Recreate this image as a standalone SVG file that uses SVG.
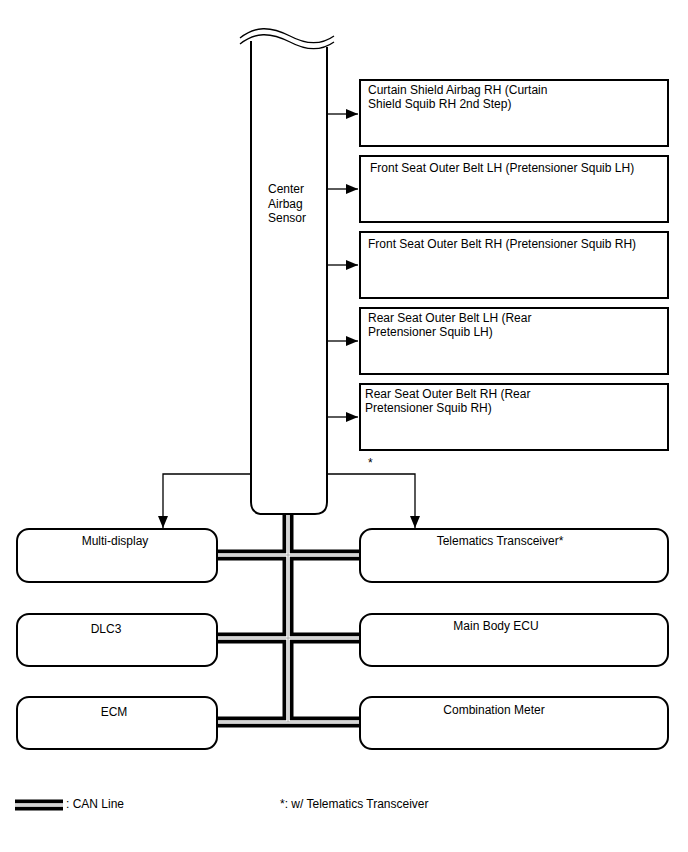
<svg xmlns="http://www.w3.org/2000/svg" width="688" height="852" viewBox="0 0 688 852">
<defs>
<marker id="ah" markerWidth="12" markerHeight="10" refX="12" refY="5" orient="auto" markerUnits="userSpaceOnUse">
<path d="M0,0 L12,5 L0,10 Z" fill="#000"/>
</marker>
<style>
text{font-family:"Liberation Sans",Arial,sans-serif;font-size:12px;fill:#000}
.box{fill:#fff;stroke:#000;stroke-width:2}
.conn{fill:none;stroke:#000;stroke-width:1.3}
.canb{fill:none;stroke:#000;stroke-width:11}
.canw{fill:none;stroke:#fff;stroke-width:3.6}
.cang{fill:none;stroke:#aaa;stroke-width:1}
.mid{text-anchor:middle}
</style>
</defs>
<rect width="688" height="852" fill="#fff"/>

<g id="can-lines">
<path class="canb" d="M288,514 V727 M216,555 H360 M216,638 H360 M216,722 H360"/>
<path class="canw" d="M288,514 V722 M216,555 H360 M216,638 H360 M216,722 H360"/>
<path class="cang" d="M288,514 V722 M216,555 H360 M216,638 H360 M216,722 H360"/>
</g>

<g id="center-airbag-sensor">
<path class="box" d="M251,41 V502 Q251,514 263,514 H315 Q327,514 327,502 V47"/>
<path fill="#fff" stroke="none" d="M240,38 C255,26 270,26 290,36 C305,44 320,46 334,36 L334,42 C320,52 305,50 290,42 C270,32 255,32 240,44 Z"/>
<path fill="none" stroke="#000" stroke-width="1.3" d="M240,38 C255,26 270,26 290,36 C305,44 320,46 334,36 M240,44 C255,32 270,32 290,42 C305,50 320,52 334,42"/>
<text x="268" y="193">Center</text>
<text x="268" y="208">Airbag</text>
<text x="268" y="222">Sensor</text>
</g>

<g id="curtain-shield">
<rect class="box" x="360" y="80" width="308" height="66"/>
<text x="368" y="94">Curtain Shield Airbag RH (Curtain</text>
<text x="368" y="108">Shield Squib RH 2nd Step)</text>
</g>
<g id="front-lh">
<rect class="box" x="360" y="156" width="308" height="66"/>
<text x="370" y="172">Front Seat Outer Belt LH (Pretensioner Squib LH)</text>
</g>
<g id="front-rh">
<rect class="box" x="360" y="232" width="308" height="66"/>
<text x="368" y="248">Front Seat Outer Belt RH (Pretensioner Squib RH)</text>
</g>
<g id="rear-lh">
<rect class="box" x="360" y="308" width="308" height="66"/>
<text x="368" y="322">Rear Seat Outer Belt LH (Rear</text>
<text x="368" y="336">Pretensioner Squib LH)</text>
</g>
<g id="rear-rh">
<rect class="box" x="360" y="384" width="308" height="66"/>
<text x="365" y="398">Rear Seat Outer Belt RH (Rear</text>
<text x="365" y="412">Pretensioner Squib RH)</text>
</g>

<g id="multi-display">
<rect class="box" x="17" y="529" width="200" height="53" rx="12"/>
<text class="mid" x="115" y="545">Multi-display</text>
</g>
<g id="dlc3">
<rect class="box" x="17" y="614" width="200" height="52" rx="12"/>
<text class="mid" x="106" y="633">DLC3</text>
</g>
<g id="ecm">
<rect class="box" x="17" y="697" width="200" height="52" rx="12"/>
<text class="mid" x="114" y="716">ECM</text>
</g>
<g id="telematics">
<rect class="box" x="360" y="529" width="308" height="53" rx="12"/>
<text class="mid" x="500" y="545">Telematics Transceiver*</text>
</g>
<g id="main-body-ecu">
<rect class="box" x="360" y="614" width="308" height="52" rx="12"/>
<text class="mid" x="496" y="630">Main Body ECU</text>
</g>
<g id="combination-meter">
<rect class="box" x="360" y="697" width="308" height="52" rx="12"/>
<text class="mid" x="494" y="714">Combination Meter</text>
</g>

<g id="connectors">
<path class="conn" marker-end="url(#ah)" d="M327,114 H358"/>
<path class="conn" marker-end="url(#ah)" d="M327,189 H358"/>
<path class="conn" marker-end="url(#ah)" d="M327,265 H358"/>
<path class="conn" marker-end="url(#ah)" d="M327,341 H358"/>
<path class="conn" marker-end="url(#ah)" d="M327,417 H358"/>
<path class="conn" marker-end="url(#ah)" d="M251,474 H163 V528"/>
<path class="conn" marker-end="url(#ah)" d="M327,474 H415 V528"/>
<text x="368" y="467">*</text>
</g>

<g id="legend">
<path stroke="#000" stroke-width="11" d="M15,805 H63"/>
<path stroke="#fff" stroke-width="3.6" d="M15,805 H63"/>
<path stroke="#aaa" stroke-width="1" d="M15,805 H63"/>
<text x="66" y="808">: CAN Line</text>
<text x="280" y="808">*: w/ Telematics Transceiver</text>
</g>
</svg>
